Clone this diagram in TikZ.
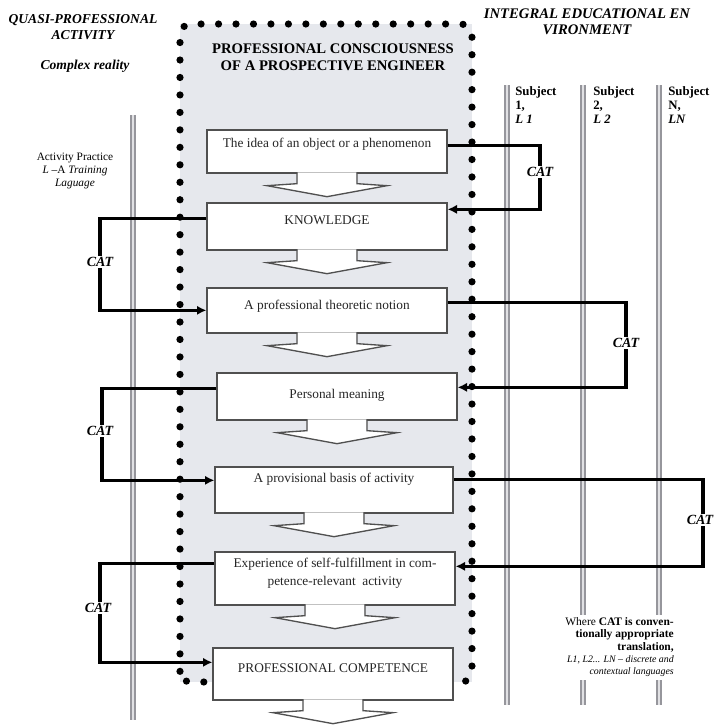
\documentclass[tikz,border=0pt]{standalone}
\usepackage{fontspec}
\setmainfont{Liberation Serif}
\usetikzlibrary{arrows.meta,calc,fit}
\definecolor{panel}{RGB}{230,232,237}
\definecolor{pillarc}{RGB}{150,150,156}
\definecolor{pillarin}{RGB}{225,225,228}
\definecolor{edgec}{RGB}{80,80,80}
\tikzset{
  pillar/.style={draw=pillarc, double=pillarin, line width=1.5pt, double distance=1.3pt},
  dotframe/.style={line width=5.4pt, line cap=round, dash pattern=on 0pt off 13.1pt, rounded corners=8},
  box/.style={draw=edgec, fill=white, line width=1pt, inner sep=0pt},
  btxt/.style={font=\fontsize{10}{13.5}\selectfont, align=center, inner sep=0pt, text=black!85},
  conn/.style={line width=2.6pt, draw=black, line join=miter},
  connarr/.style={conn, -{Latex[length=7pt,width=7pt]}},
  cat/.style={font=\fontsize{10.5}{12}\selectfont\bfseries\itshape, fill=white, inner sep=1pt},
  head/.style={font=\fontsize{10.2}{12.5}\selectfont\bfseries\itshape, align=center, inner sep=0pt},
  subj/.style={font=\fontsize{9.6}{10.5}\selectfont\bfseries, align=left, inner sep=0pt, anchor=north west},
  blockarrow/.pic={
    \fill[white] (-29.4,-1.2) -- (-29.4,10) -- (-60,12) -- (0,23) -- (60,12) -- (29.4,10) -- (29.4,-1.2) -- cycle;
    \draw[draw=edgec, line width=1pt, line join=miter] (-30,0) -- (-30,10) -- (-60,12) -- (0,23) -- (60,12) -- (30,10) -- (30,0);
  }
}
\begin{document}
\begin{tikzpicture}[x=0.75pt,y=-0.75pt]
\useasboundingbox (0,0) rectangle (715,726);
% central panel
\fill[panel] (180,24) rectangle (472,682);
% pillars
\draw[pillar] (133,115) -- (133,720);
\draw[pillar] (507,85) -- (507,705);
\draw[pillar] (583,85) -- (583,615);
\draw[pillar] (583,680) -- (583,705);
\draw[pillar] (659,85) -- (659,615);
\draw[pillar] (659,680) -- (659,705);
% dotted frame
\draw[dotframe] (180,682) -- (180,24) -- (472,24) -- (472,682) -- cycle;

% headings
\node[head] (hq) at (83,27) {QUASI-PROFESSIONAL\\ACTIVITY};
\node[head] (hc) at (85,66) {Complex reality};
\node[font=\fontsize{8.5}{9.8}\selectfont, align=center, inner sep=0pt] (hap) at (75,171)
  {Activity Practice\\\textit{L} –A \textit{Training}\\\textit{Laguage}};
\node[font=\fontsize{11}{12.8}\selectfont\bfseries, align=center, inner sep=0pt] (hpc) at (333,57)
  {PROFESSIONAL CONSCIOUSNESS\\OF A PROSPECTIVE ENGINEER};
\node[head, font=\fontsize{11}{12}\selectfont\bfseries\itshape] (hi) at (587,22) {INTEGRAL EDUCATIONAL EN\\VIRONMENT};
\node[subj] (s1) at (515,86) {Subject\\1,\\\textit{L 1}};
\node[subj] (s2) at (593,86) {Subject\\2,\\\textit{L 2}};
\node[subj] (s3) at (668,86) {Subject\\N,\\\textit{LN}};
\node[align=right, inner sep=0pt, anchor=north east, font=\fontsize{8.6}{9.3}\selectfont] (note) at (674,617)
  {Where \textbf{CAT is conven-}\\\textbf{tionally appropriate}\\\textbf{translation,}\\
   {\fontsize{7.4}{9.3}\selectfont\itshape L1, L2... LN – discrete and}\\
   {\fontsize{7.4}{9.3}\selectfont\itshape contextual languages}};

% boxes
\node[box, fit={(207,130) (447,173)}] (b1) {};
\node[box, fit={(207,203) (447,250)}] (b2) {};
\node[box, fit={(207,288) (447,333)}] (b3) {};
\node[box, fit={(217,373) (457,420)}] (b4) {};
\node[box, fit={(215,467) (453,513)}] (b5) {};
\node[box, fit={(215,552) (455,605)}] (b6) {};
\node[box, fit={(213,648) (453,700)}] (b7) {};
\foreach \b in {b1,b2,b3,b4,b5,b6,b7} { \pic at (\b.south) {blockarrow}; }

\node[btxt] (t1) at (327,144) {The idea of an object or a phenomenon};
\node[btxt] (t2) at (327,220) {KNOWLEDGE};
\node[btxt] (t3) at (327,306) {A professional theoretic notion};
\node[btxt] (t4) at (337,395) {Personal meaning};
\node[btxt] (t5) at (334,479) {A provisional basis of activity};
\node[btxt] (t6) at (335,573) {Experience of self-fulfillment in com-\\petence-relevant\ \ activity};
\node[btxt] (t7) at (333,668) {PROFESSIONAL COMPETENCE};

% connectors
\coordinate (k1) at (540,0);
\coordinate (k2) at (100,0);
\coordinate (k3) at (626,0);
\coordinate (k4) at (102,0);
\coordinate (k5) at (703,0);
\coordinate (k6) at (100,0);
\draw[connarr] ($(b1.north east)+(0,16)$) -| (k1 |- 0,180) |- ($(b2.north east)+(0,7)$);
\draw[connarr] ($(b2.north west)+(0,16)$) -| (k2 |- 0,260) |- ($(b3.north west)+(0,23)$);
\draw[connarr] ($(b3.north east)+(0,15)$) -| (k3 |- 0,340) |- ($(b4.north east)+(0,15)$);
\draw[connarr] ($(b4.north west)+(0,16)$) -| (k4 |- 0,430) |- ($(b5.north west)+(0,14)$);
\draw[connarr] ($(b5.north east)+(0,13)$) -| (k5 |- 0,520) |- ($(b6.north east)+(0,15)$);
\draw[connarr] ($(b6.north west)+(0,12)$) -| (k6 |- 0,610) |- ($(b7.north west)+(0,15)$);
\node[cat] (c1) at (540,172) {CAT};
\node[cat] (c2) at (100,262) {CAT};
\node[cat] (c3) at (626,343) {CAT};
\node[cat] (c4) at (100,431) {CAT};
\node[cat] (c5) at (700,520) {CAT};
\node[cat] (c6) at (98,608) {CAT};
\end{tikzpicture}
\end{document}
